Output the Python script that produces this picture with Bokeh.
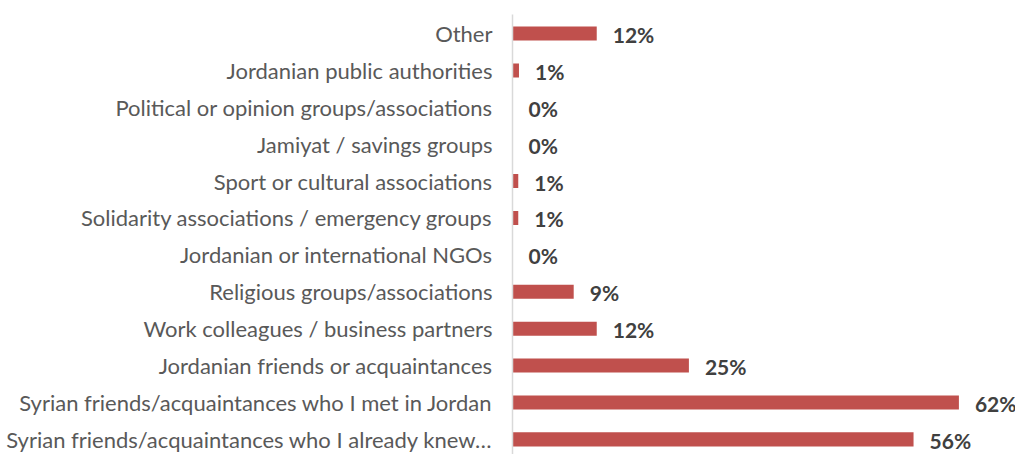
from bokeh.plotting import figure
from bokeh.models import Range1d, FixedTicker, ColumnDataSource
from bokeh.core.properties import value
from bokeh.embed import file_html
from bokeh.resources import INLINE

categories = [
    "Other",
    "Jordanian public authorities",
    "Political or opinion groups/associations",
    "Jamiyat / savings groups",
    "Sport or cultural associations",
    "Solidarity associations / emergency groups",
    "Jordanian or international NGOs",
    "Religious groups/associations",
    "Work colleagues / business partners",
    "Jordanian friends or acquaintances",
    "Syrian friends/acquaintances who I met in Jordan",
    "Syrian friends/acquaintances who I already knew\u2026",
]
values = [11.7, 0.9, 0.0, 0.0, 0.8, 0.8, 0.0, 8.5, 11.7, 24.5, 62.0, 55.7]
labels = ["12%", "1%", "0%", "0%", "1%", "1%", "0%", "9%", "12%", "25%", "62%", "56%"]

n = len(categories)
ypos = [n - 1 - i for i in range(n)]

src = ColumnDataSource(dict(y=ypos, v=values, lab=labels))

p = figure(width=1015, height=454, output_backend="svg", toolbar_location=None,
           x_range=Range1d(0, 69.86), y_range=Range1d(-0.41, 11.515),
           min_border_left=512, min_border_right=0, min_border_top=14, min_border_bottom=0)
p.outline_line_color = None
p.xgrid.visible = False
p.ygrid.visible = False
p.xaxis.visible = False

p.hbar(y="y", right="v", left=0, height=0.38, source=src,
       fill_color="#C0504D", line_color=None)
p.text(x="v", y="y", text="lab", source=src, x_offset=16, y_offset=1,
       text_font=value("Lato"), text_font_style="bold", text_font_size="21px",
       text_color="#404040", text_baseline="middle", text_align="left")

ya = p.yaxis[0]
ya.ticker = FixedTicker(ticks=ypos)
ya.major_label_overrides = {yy: c for yy, c in zip(ypos, categories)}
ya.major_tick_line_color = None
ya.minor_tick_line_color = None
ya.axis_line_color = "#D9D9D9"
ya.axis_line_width = 1.5
ya.major_label_standoff = 14
ya.major_label_text_font = "Lato"
ya.major_label_text_font_size = "22px"
ya.major_label_text_color = "#595959"

open("out.html", "w").write(file_html(p, INLINE))
